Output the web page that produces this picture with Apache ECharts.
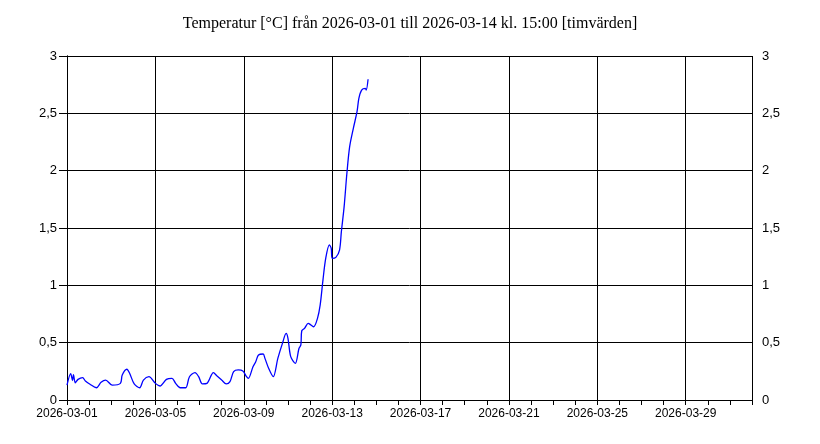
<!DOCTYPE html>
<html><head><meta charset="utf-8">
<script src="https://cdn.jsdelivr.net/npm/echarts@6/dist/echarts.min.js"></script>
<style>html,body{margin:0;padding:0;background:#fff}#c{width:820px;height:444px}</style>
</head><body><div id="c"></div>
<script>
var titleText = 'Temperatur [°C] från 2026-03-01 till 2026-03-14 kl. 15:00 [timvärden]';
// hours since 2026-03-01 00:00
var hours = [0,4,6,7,9,12,17,20,25,32,37,42,49,58,60,65,68,73,79,83,89,96,101,108,114,118,123,129,133,139,143,147,152,159,163,168,173,177,181,186,191,195,197,202,205,208,213,215,219,224,229,234,238,240,243,248,252,254,255,258,262,265,268,272,275,278,281,285,287,288,292,296,298,301,304,307,311,315,317,320,324,325,327];
var temps = [0.13,0.23,0.17,0.22,0.15,0.18,0.195,0.165,0.137,0.107,0.154,0.174,0.13,0.145,0.218,0.268,0.233,0.14,0.107,0.174,0.203,0.145,0.122,0.18,0.189,0.145,0.107,0.107,0.203,0.238,0.203,0.14,0.145,0.238,0.209,0.174,0.14,0.16,0.247,0.262,0.253,0.203,0.189,0.29,0.334,0.392,0.401,0.363,0.276,0.203,0.363,0.494,0.581,0.538,0.378,0.32,0.451,0.48,0.604,0.625,0.669,0.654,0.639,0.71,0.83,1.046,1.235,1.352,1.323,1.235,1.244,1.308,1.468,1.686,1.977,2.209,2.369,2.514,2.631,2.703,2.718,2.703,2.797];
var yTicks = [0,0.5,1,1.5,2,2.5,3];

var data = hours.map(function(h,i){ return [h/24, temps[i]]; });
function pad(n){ return n<10 ? '0'+n : ''+n; }
var labelFont = {fontFamily:'Liberation Sans, Arial, sans-serif', fontSize:12, color:'#000'};
var yLabelFont = {fontFamily:'Liberation Sans, Arial, sans-serif', fontSize:13, color:'#000'};
function yFmt(v){ return String(v).replace('.', ','); }
var chart = echarts.init(document.getElementById('c'), null, {renderer:'canvas'});
chart.setOption({
  animation:false,
  backgroundColor:'#fff',
  title:{text:titleText, left:'center', top:11, textStyle:{fontFamily:'Liberation Serif, Times New Roman, serif', fontSize:16, fontWeight:'normal', color:'#000'}},
  grid:{left:67, right:68, top:56, bottom:44, containLabel:false},
  xAxis:[{
    type:'value', min:0, max:31, interval:1, position:'bottom',
    axisLine:{show:true, onZero:false, lineStyle:{color:'#000', width:1}},
    axisTick:{show:true, length:5, inside:false, lineStyle:{color:'#000'}},
    axisLabel:Object.assign({margin:8, formatter:function(v){ return (v%4===0 && v<31) ? '2026-03-' + pad(v+1) : ''; }}, labelFont),
    splitLine:{show:false}
  },{
    type:'value', min:0, max:31, interval:4, position:'bottom',
    axisLine:{show:false}, axisTick:{show:false}, axisLabel:{show:false},
    splitLine:{show:true, lineStyle:{color:'#000', width:1}}
  }],
  yAxis:[{
    type:'value', min:yTicks[0], max:yTicks[yTicks.length-1], interval:0.5, position:'left',
    axisLine:{show:true, lineStyle:{color:'#000'}},
    axisTick:{show:true, length:8, lineStyle:{color:'#000'}},
    axisLabel:Object.assign({margin:10, formatter:yFmt}, yLabelFont),
    splitLine:{show:true, lineStyle:{color:'#000', width:1}}
  },{
    type:'value', min:yTicks[0], max:yTicks[yTicks.length-1], interval:0.5, position:'right',
    axisLine:{show:true, lineStyle:{color:'#000'}},
    axisTick:{show:true, length:8, lineStyle:{color:'#000'}},
    axisLabel:Object.assign({margin:10, formatter:yFmt}, yLabelFont),
    splitLine:{show:false}
  }],
  series:[{
    type:'line', xAxisIndex:0, yAxisIndex:0, data:data, showSymbol:false, smooth:0.3,
    lineStyle:{color:'#0000ff', width:1.3}
  }]
});
</script></body></html>
